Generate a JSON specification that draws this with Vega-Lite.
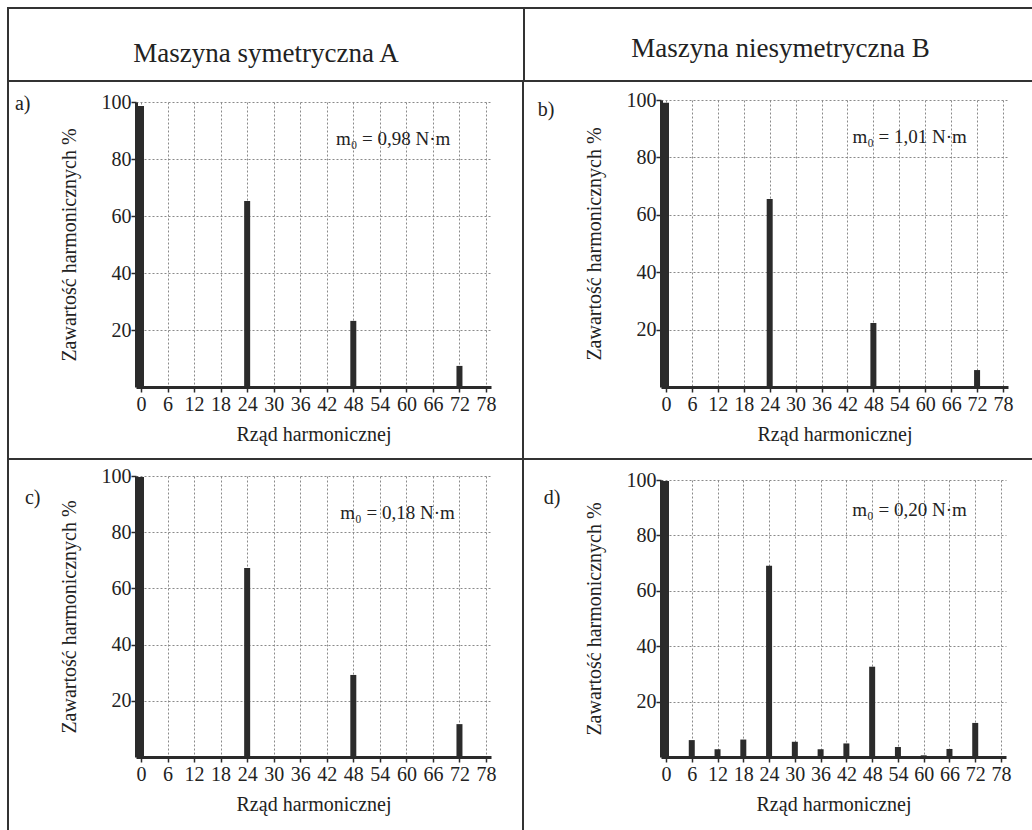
{
  "$schema": "https://vega.github.io/schema/vega-lite/v6.json",
  "padding": {"left": 7, "top": 7, "right": 0, "bottom": 0},
  "background": "white",
  "datasets": {
    "a": [{"h": 0, "v": 98.6}, {"h": 24, "v": 65.3}, {"h": 48, "v": 23.2}, {"h": 72, "v": 7.4}],
    "b": [{"h": 0, "v": 99}, {"h": 24, "v": 65.5}, {"h": 48, "v": 22.3}, {"h": 72, "v": 5.9}],
    "c": [{"h": 0, "v": 99.6}, {"h": 24, "v": 67.3}, {"h": 48, "v": 29.2}, {"h": 72, "v": 11.7}],
    "d": [{"h": 0, "v": 99.6}, {"h": 6, "v": 6.1}, {"h": 12, "v": 2.8}, {"h": 18, "v": 6.3}, {"h": 24, "v": 69}, {"h": 30, "v": 5.5}, {"h": 36, "v": 2.8}, {"h": 42, "v": 4.9}, {"h": 48, "v": 32.6}, {"h": 54, "v": 3.6}, {"h": 60, "v": 0.6}, {"h": 66, "v": 2.9}, {"h": 72, "v": 12.3}]
  },
  "spacing": 0,
  "vconcat": [
    {"width": 1025, "height": 2, "data": {"values": []}, "mark": "point", "view": {"fill": "#333", "stroke": null}},
    {
      "spacing": 0,
      "hconcat": [
        {"width": 2, "height": 71, "data": {"values": []}, "mark": "point", "view": {"fill": "#333", "stroke": null}},
        {"width": 514, "height": 71, "data": {"values": [{"t": "Maszyna symetryczna A"}]}, "mark": {"type": "text", "font": "Liberation Serif", "fontSize": 27, "color": "#222", "dy": 9}, "encoding": {"text": {"field": "t"}}},
        {"width": 2, "height": 71, "data": {"values": []}, "mark": "point", "view": {"fill": "#333", "stroke": null}},
        {"width": 505, "height": 71, "data": {"values": [{"t": "Maszyna niesymetryczna B"}]}, "mark": {"type": "text", "font": "Liberation Serif", "fontSize": 27, "color": "#222", "dy": 4, "dx": 3}, "encoding": {"text": {"field": "t"}}}
      ]
    },
    {"width": 1025, "height": 2, "data": {"values": []}, "mark": "point", "view": {"fill": "#333", "stroke": null}},
    {
      "spacing": 0,
      "hconcat": [
        {"width": 2, "height": 376, "data": {"values": []}, "mark": "point", "view": {"fill": "#333", "stroke": null}},
        {"width": 5, "height": 1, "data": {"values": []}, "mark": "point"},
        {
          "spacing": 0,
          "vconcat": [
            {"width": 1, "height": 10, "data": {"values": []}, "mark": "point"},
            {
              "width": 355, "height": 285,
              "data": {"name": "a"},
              "title": {"text": "a)", "orient": "left", "anchor": "end", "angle": 0, "align": "right", "baseline": "middle", "offset": 13, "dy": 12},
              "layer": [
                {"mark": {"type": "bar", "size": 6, "color": "#2b2b2b"},
                 "encoding": {
                   "x": {"field": "h", "type": "quantitative", "scale": {"domain": [0, 78], "nice": false, "zero": false}, "axis": {"values": [0, 6, 12, 18, 24, 30, 36, 42, 48, 54, 60, 66, 72, 78], "tickCount": 40, "title": "Rząd harmonicznej", "grid": true}},
                   "y": {"field": "v", "type": "quantitative", "scale": {"domain": [0, 100], "nice": false}, "axis": {"values": [20, 40, 60, 80, 100], "tickCount": 20, "title": "Zawartość harmonicznych %", "grid": true}}
                 }},
                {"data": {"values": [{"t": "m₀ = 0,98 N·m"}]},
                 "mark": {"type": "text", "font": "Liberation Serif", "fontSize": 19, "color": "#222"},
                 "encoding": {"text": {"field": "t"}, "x": {"datum": 57}, "y": {"datum": 87}}}
              ]
            }
          ]
        },
        {"width": 25, "height": 1, "data": {"values": []}, "mark": "point"},
        {"width": 2, "height": 376, "data": {"values": []}, "mark": "point", "view": {"fill": "#333", "stroke": null}},
        {"width": 13, "height": 1, "data": {"values": []}, "mark": "point"},
        {
          "spacing": 0,
          "vconcat": [
            {"width": 1, "height": 8, "data": {"values": []}, "mark": "point"},
            {
              "width": 347, "height": 287,
              "data": {"name": "b"},
              "title": {"text": "b)", "orient": "left", "anchor": "end", "angle": 0, "align": "right", "baseline": "middle", "offset": 13, "dy": 20},
              "layer": [
                {"mark": {"type": "bar", "size": 6, "color": "#2b2b2b"},
                 "encoding": {
                   "x": {"field": "h", "type": "quantitative", "scale": {"domain": [0, 78], "nice": false, "zero": false}, "axis": {"values": [0, 6, 12, 18, 24, 30, 36, 42, 48, 54, 60, 66, 72, 78], "tickCount": 40, "title": "Rząd harmonicznej", "grid": true}},
                   "y": {"field": "v", "type": "quantitative", "scale": {"domain": [0, 100], "nice": false}, "axis": {"values": [20, 40, 60, 80, 100], "tickCount": 20, "title": "Zawartość harmonicznych %", "grid": true}}
                 }},
                {"data": {"values": [{"t": "m₀ = 1,01 N·m"}]},
                 "mark": {"type": "text", "font": "Liberation Serif", "fontSize": 19, "color": "#222"},
                 "encoding": {"text": {"field": "t"}, "x": {"datum": 56.4}, "y": {"datum": 87}}}
              ]
            }
          ]
        }
      ]
    },
    {"width": 1025, "height": 2, "data": {"values": []}, "mark": "point", "view": {"fill": "#333", "stroke": null}},
    {
      "spacing": 0,
      "hconcat": [
        {"width": 2, "height": 370, "data": {"values": []}, "mark": "point", "view": {"fill": "#333", "stroke": null}},
        {"width": 15, "height": 1, "data": {"values": []}, "mark": "point"},
        {
          "spacing": 0,
          "vconcat": [
            {"width": 1, "height": 6, "data": {"values": []}, "mark": "point"},
            {
              "width": 355, "height": 281,
              "data": {"name": "c"},
              "title": {"text": "c)", "orient": "left", "anchor": "end", "angle": 0, "align": "right", "baseline": "middle", "offset": 3, "dy": 32},
              "layer": [
                {"mark": {"type": "bar", "size": 6, "color": "#2b2b2b"},
                 "encoding": {
                   "x": {"field": "h", "type": "quantitative", "scale": {"domain": [0, 78], "nice": false, "zero": false}, "axis": {"values": [0, 6, 12, 18, 24, 30, 36, 42, 48, 54, 60, 66, 72, 78], "tickCount": 40, "title": "Rząd harmonicznej", "grid": true}},
                   "y": {"field": "v", "type": "quantitative", "scale": {"domain": [0, 100], "nice": false}, "axis": {"values": [20, 40, 60, 80, 100], "tickCount": 20, "title": "Zawartość harmonicznych %", "grid": true}}
                 }},
                {"data": {"values": [{"t": "m₀ = 0,18 N·m"}]},
                 "mark": {"type": "text", "font": "Liberation Serif", "fontSize": 19, "color": "#222"},
                 "encoding": {"text": {"field": "t"}, "x": {"datum": 58}, "y": {"datum": 86.8}}}
              ]
            }
          ]
        },
        {"width": 25, "height": 1, "data": {"values": []}, "mark": "point"},
        {"width": 2, "height": 370, "data": {"values": []}, "mark": "point", "view": {"fill": "#333", "stroke": null}},
        {"width": 19, "height": 1, "data": {"values": []}, "mark": "point"},
        {
          "spacing": 0,
          "vconcat": [
            {"width": 1, "height": 10, "data": {"values": []}, "mark": "point"},
            {
              "width": 345, "height": 277,
              "data": {"name": "d"},
              "title": {"text": "d)", "orient": "left", "anchor": "end", "angle": 0, "align": "right", "baseline": "middle", "offset": 7, "dy": 28},
              "layer": [
                {"mark": {"type": "bar", "size": 6, "color": "#2b2b2b"},
                 "encoding": {
                   "x": {"field": "h", "type": "quantitative", "scale": {"domain": [0, 78], "nice": false, "zero": false}, "axis": {"values": [0, 6, 12, 18, 24, 30, 36, 42, 48, 54, 60, 66, 72, 78], "tickCount": 40, "title": "Rząd harmonicznej", "grid": true}},
                   "y": {"field": "v", "type": "quantitative", "scale": {"domain": [0, 100], "nice": false}, "axis": {"values": [20, 40, 60, 80, 100], "tickCount": 20, "title": "Zawartość harmonicznych %", "grid": true}}
                 }},
                {"data": {"values": [{"t": "m₀ = 0,20 N·m"}]},
                 "mark": {"type": "text", "font": "Liberation Serif", "fontSize": 19, "color": "#222"},
                 "encoding": {"text": {"field": "t"}, "x": {"datum": 56.7}, "y": {"datum": 89}}}
              ]
            }
          ]
        }
      ]
    }
  ],
  "config": {
    "view": {"stroke": null},
    "concat": {"spacing": 0},
    "font": "Liberation Serif",
    "title": {"font": "Liberation Serif", "fontSize": 20, "fontWeight": "normal", "color": "#222"},
    "axis": {
      "labelFont": "Liberation Serif", "labelFontSize": 20, "labelColor": "#222",
      "titleFont": "Liberation Serif", "titleFontSize": 20, "titleFontWeight": "normal", "titleColor": "#222",
      "domainColor": "#2a2a2a", "domainWidth": 3, "tickColor": "#2a2a2a", "tickWidth": 1.5, "tickSize": 5,
      "gridColor": "#8a8a8a", "gridDash": [2, 2], "gridWidth": 1,
      "labelFlush": false, "labelOverlap": false, "labelBound": false
    },
    "axisX": {"labelPadding": 2, "titlePadding": 10},
    "axisY": {"labelPadding": 0, "titlePadding": 22}
  }
}
